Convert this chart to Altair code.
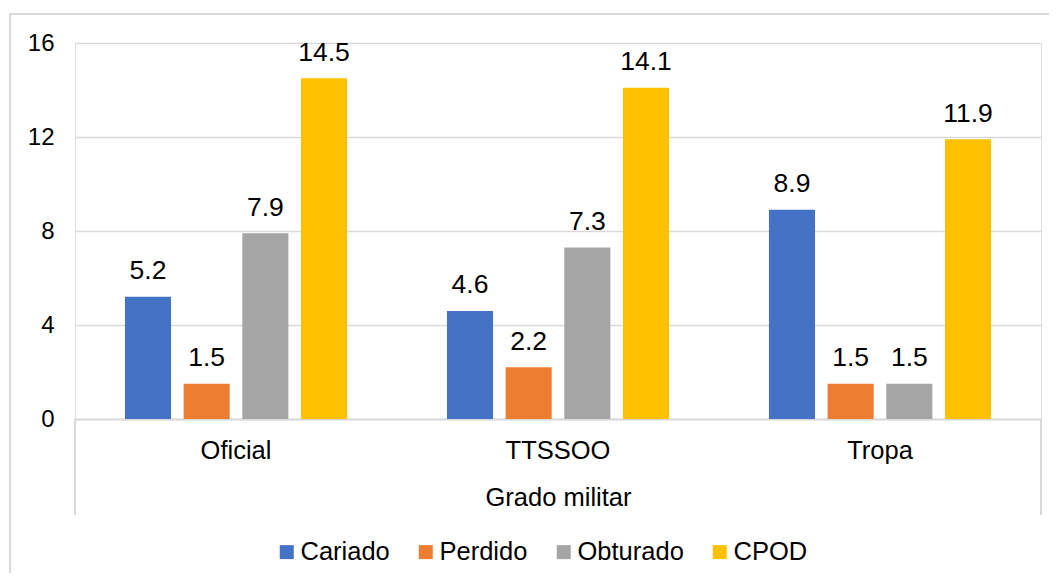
import altair as alt
import pandas as pd

categories = ["Oficial", "TTSSOO", "Tropa"]
series = ["Cariado", "Perdido", "Obturado", "CPOD"]
cariado = [5.2, 4.6, 8.9]
perdido = [1.5, 2.2, 1.5]
obturado = [7.9, 7.3, 1.5]
cpod = [14.5, 14.1, 11.9]
colors = ["#4472C4", "#ED7D31", "#A5A5A5", "#FFC000"]
y_ticks = [0, 4, 8, 12, 16]

rows = []
for name, vals in zip(series, [cariado, perdido, obturado, cpod]):
    for c, v in zip(categories, vals):
        rows.append({"Grado": c, "Serie": name, "Valor": v})
df = pd.DataFrame(rows)

W, H = 966, 376
FONT = "Liberation Sans"
GRID = "#d9d9d9"

x_enc = alt.X("Grado:N", sort=categories,
              scale=alt.Scale(paddingInner=0.271, paddingOuter=0.1355),
              axis=alt.Axis(title="Grado militar", labelAngle=0, ticks=False, tickSize=0,
                            labelPadding=31, labelBaseline="middle", labelFontSize=25.5,
                            labelColor="#000000", labelFont=FONT,
                            titleFontSize=25.5, titleFont=FONT, titleFontWeight="normal",
                            titleColor="#000000", titleY=78, titleBaseline="middle",
                            domainColor=GRID, domainWidth=2, grid=False))
xoff = alt.XOffset("Serie:N", sort=series,
                   scale=alt.Scale(paddingInner=0.215, paddingOuter=0.1075))
y_enc = alt.Y("Valor:Q", scale=alt.Scale(domain=[0, 16], nice=False),
              axis=alt.Axis(title=None, values=y_ticks, ticks=False, tickSize=0,
                            labelPadding=21, labelFontSize=24, labelColor="#000000",
                            labelFont=FONT, domain=False, grid=True,
                            gridColor=GRID, gridWidth=1.5))

base = alt.Chart(df)

bars = base.mark_bar().encode(
    x=x_enc, xOffset=xoff, y=y_enc,
    color=alt.Color("Serie:N", sort=series,
                    scale=alt.Scale(domain=series, range=colors),
                    legend=alt.Legend(title=None, orient="none", direction="horizontal",
                                      legendX=199, legendY=496, padding=0,
                                      symbolType="square", symbolSize=196,
                                      symbolStrokeWidth=0, labelFontSize=25.5,
                                      labelFont=FONT, labelColor="#000000",
                                      labelOffset=1, columnPadding=23)),
)

labels = base.mark_text(baseline="alphabetic", dy=-17.5, fontSize=26.5, font=FONT,
                        color="#000000").encode(
    x=alt.X("Grado:N", sort=categories), xOffset=alt.XOffset("Serie:N", sort=series),
    y=alt.Y("Valor:Q"), text=alt.Text("Valor:Q", format=".1f"),
)

one = pd.DataFrame({"k": [0]})
border = alt.Chart(one).mark_rect(fill="transparent", stroke=GRID, strokeWidth=2).encode(
    x=alt.value(-65), x2=alt.value(1200), y=alt.value(-29), y2=alt.value(700))
left_rule = alt.Chart(one).mark_rule(color=GRID, strokeWidth=2).encode(
    x=alt.value(0), y=alt.value(H), y2=alt.value(H + 96))
right_rule = alt.Chart(one).mark_rule(color=GRID, strokeWidth=2).encode(
    x=alt.value(W), y=alt.value(H), y2=alt.value(H + 96))

chart = alt.layer(border, bars, labels, left_rule, right_rule).properties(
    width=W, height=H,
    autosize=alt.AutoSizeParams(type="none"),
    padding={"left": 67, "top": 35, "right": 8, "bottom": 154},
).configure_view(stroke=None).configure(background="white")

chart.save("out.html", embed_options={"renderer": "svg", "actions": False})
